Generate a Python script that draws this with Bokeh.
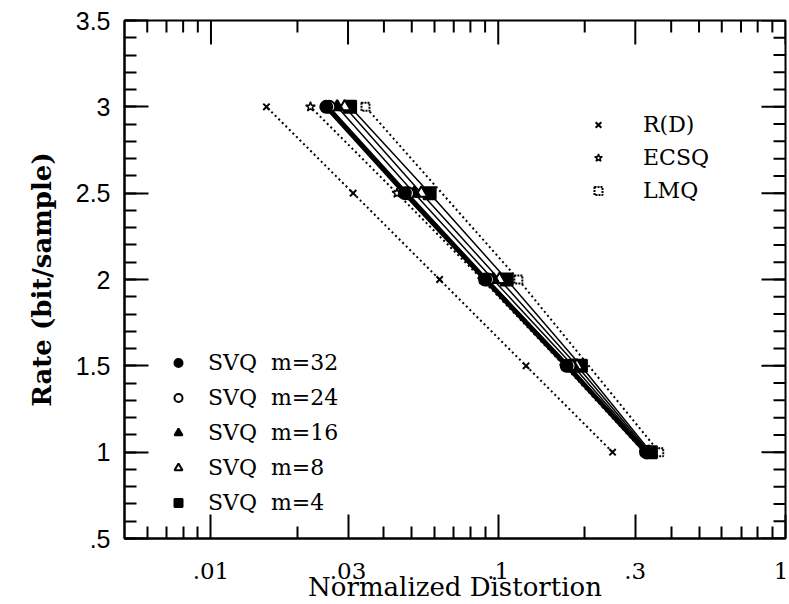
import math
from bokeh.plotting import figure
from bokeh.models import (FixedTicker, CustomJSTickFormatter, Range1d, Legend, LegendItem)
from bokeh.embed import file_html
from bokeh.resources import INLINE

# ---------------- data ----------------
rates = [1.0, 1.5, 2.0, 2.5, 3.0]
lmq_rates = [1.0, 2.0, 3.0]

rd_D = [0.25, 0.125, 0.0625, 0.03125, 0.0156]
ecsq_D = [0.322, 0.170, 0.088, 0.0444, 0.0222]
lmq_D = [0.3634, 0.1175, 0.0345]

svq32_D = [0.327, 0.173, 0.090, 0.0473, 0.0252]
svq24_D = [0.330, 0.177, 0.092, 0.0485, 0.0258]
svq16_D = [0.333, 0.182, 0.096, 0.0510, 0.0275]
svq8_D = [0.336, 0.188, 0.101, 0.0540, 0.0292]
svq4_D = [0.340, 0.194, 0.107, 0.0577, 0.0305]

x_lo, x_hi = 0.005, 1.0
y_lo, y_hi = 0.5, 3.5
x_major = [0.01, 0.03, 0.1, 0.3, 1.0]
x_minor = [0.006, 0.007, 0.008, 0.009, 0.02, 0.04, 0.05, 0.06, 0.07, 0.08, 0.09,
           0.2, 0.4, 0.5, 0.6, 0.7, 0.8, 0.9]
y_major = [0.5, 1.0, 1.5, 2.0, 2.5, 3.0, 3.5]
y_minor = [round(0.5 + 0.1 * i, 1) for i in range(31)]

x_title = "Normalized Distortion"
y_title = "Rate (bit/sample)"

SERIF = "DejaVu Serif"
MAJ, MIN = 24, 12

p = figure(width=788, height=604, x_axis_type="log",
           x_range=Range1d(x_lo, x_hi), y_range=Range1d(y_lo, y_hi),
           output_backend="svg", toolbar_location=None,
           min_border_left=124, min_border_top=20, min_border_right=3,
           min_border_bottom=65)
p.grid.visible = False
p.outline_line_color = "black"
p.outline_line_width = 2
p.background_fill_color = "white"
p.border_fill_color = "white"

xfmt = CustomJSTickFormatter(code="""
  if (tick >= 1) return String(Math.round(tick));
  return String(tick).replace(/^0/, '');
""")
yfmt = CustomJSTickFormatter(code="""
  return String(tick).replace(/^0/, '');
""")


def style(ax):
    ax.major_tick_in = MAJ
    ax.major_tick_out = 0
    ax.minor_tick_in = MIN
    ax.minor_tick_out = 0
    ax.axis_line_color = "black"
    ax.axis_line_width = 2
    ax.major_tick_line_width = 2
    ax.minor_tick_line_width = 2
    ax.major_tick_line_color = "black"
    ax.minor_tick_line_color = "black"
    ax.major_label_text_color = "black"
    ax.axis_label_text_color = "black"


xa = p.xaxis[0]
xa.ticker = FixedTicker(ticks=x_major, minor_ticks=x_minor)
xa.formatter = xfmt
style(xa)
xa.major_label_text_font = SERIF
xa.major_label_text_font_size = "23px"
xa.major_label_standoff = 24
xa.axis_label = x_title
xa.axis_label_text_font = SERIF
xa.axis_label_text_font_size = "26px"
xa.axis_label_text_font_style = "normal"
xa.axis_label_standoff = -10

ya = p.yaxis[0]
ya.ticker = FixedTicker(ticks=y_major, minor_ticks=y_minor)
ya.formatter = yfmt
style(ya)
ya.major_label_text_font = "Liberation Sans"
ya.major_label_text_font_size = "25px"
ya.major_label_standoff = 14
ya.axis_label = y_title
ya.axis_label_text_font = SERIF
ya.axis_label_text_font_size = "26px"
ya.axis_label_text_font_style = "bold"
ya.axis_label_standoff = 16

# inward ticks on the top and right sides of the frame (no labels there)
tick_kw = dict(length_units="screen", line_color="black", line_width=2)
p.ray(x=x_major, y=[y_hi] * len(x_major), length=MAJ, angle=-math.pi / 2, **tick_kw)
p.ray(x=x_minor, y=[y_hi] * len(x_minor), length=MIN, angle=-math.pi / 2, **tick_kw)
p.ray(x=[x_hi] * len(y_major), y=y_major, length=MAJ, angle=math.pi, **tick_kw)
p.ray(x=[x_hi] * len(y_minor), y=y_minor, length=MIN, angle=math.pi, **tick_kw)

# ---------------- series ----------------
p.line(rd_D, rates, line_color="black", line_width=2, line_dash="2 3")
r_rd = p.scatter(rd_D, rates, marker="x", size=9, line_color="black", line_width=2)

p.line(ecsq_D, rates, line_color="black", line_width=2, line_dash="2 3")
r_ec = p.scatter(ecsq_D, rates, marker="star", size=10, line_color="black",
                 fill_color="white", line_width=1.5)

p.line(lmq_D, lmq_rates, line_color="black", line_width=2, line_dash="2 3")
r_lm = p.scatter(lmq_D, lmq_rates, marker="square", size=8, line_color="black",
                 fill_color="white", line_width=2, line_dash="2 1")

svq_specs = [
    (svq4_D, "square", "black", 1.5),
    (svq8_D, "triangle", "white", 1.5),
    (svq16_D, "triangle", "black", 1.5),
    (svq24_D, "circle", "white", 1.5),
    (svq32_D, "circle", "black", 4.5),
]
svq_marks = []
for D, mk, fc, lw in svq_specs:
    p.line(D, rates, line_color="black", line_width=lw)
    svq_marks.append(p.scatter(D, rates, marker=mk, size=12, line_color="black",
                               fill_color=fc, line_width=2))
r4, r8, r16, r24, r32 = svq_marks

# ---------------- legends ----------------
leg_kw = dict(border_line_alpha=0, background_fill_alpha=0, padding=0, margin=0,
              spacing=0, label_text_font=SERIF, label_text_font_size="22px",
              label_text_color="black", glyph_width=20, inactive_fill_alpha=0)

leg1 = Legend(items=[LegendItem(label="R(D)", renderers=[r_rd]),
                     LegendItem(label="ECSQ", renderers=[r_ec]),
                     LegendItem(label="LMQ", renderers=[r_lm])],
              location=(464, 331), glyph_height=33, label_height=33,
              label_standoff=35, **leg_kw)
leg2 = Legend(items=[LegendItem(label="SVQ  m=32", renderers=[r32]),
                     LegendItem(label="SVQ  m=24", renderers=[r24]),
                     LegendItem(label="SVQ  m=16", renderers=[r16]),
                     LegendItem(label="SVQ  m=8", renderers=[r8]),
                     LegendItem(label="SVQ  m=4", renderers=[r4])],
              location=(44, 18), glyph_height=35, label_height=35,
              label_standoff=20, **leg_kw)
p.add_layout(leg1, "center")
p.add_layout(leg2, "center")

open("out.html", "w").write(file_html(p, INLINE))
